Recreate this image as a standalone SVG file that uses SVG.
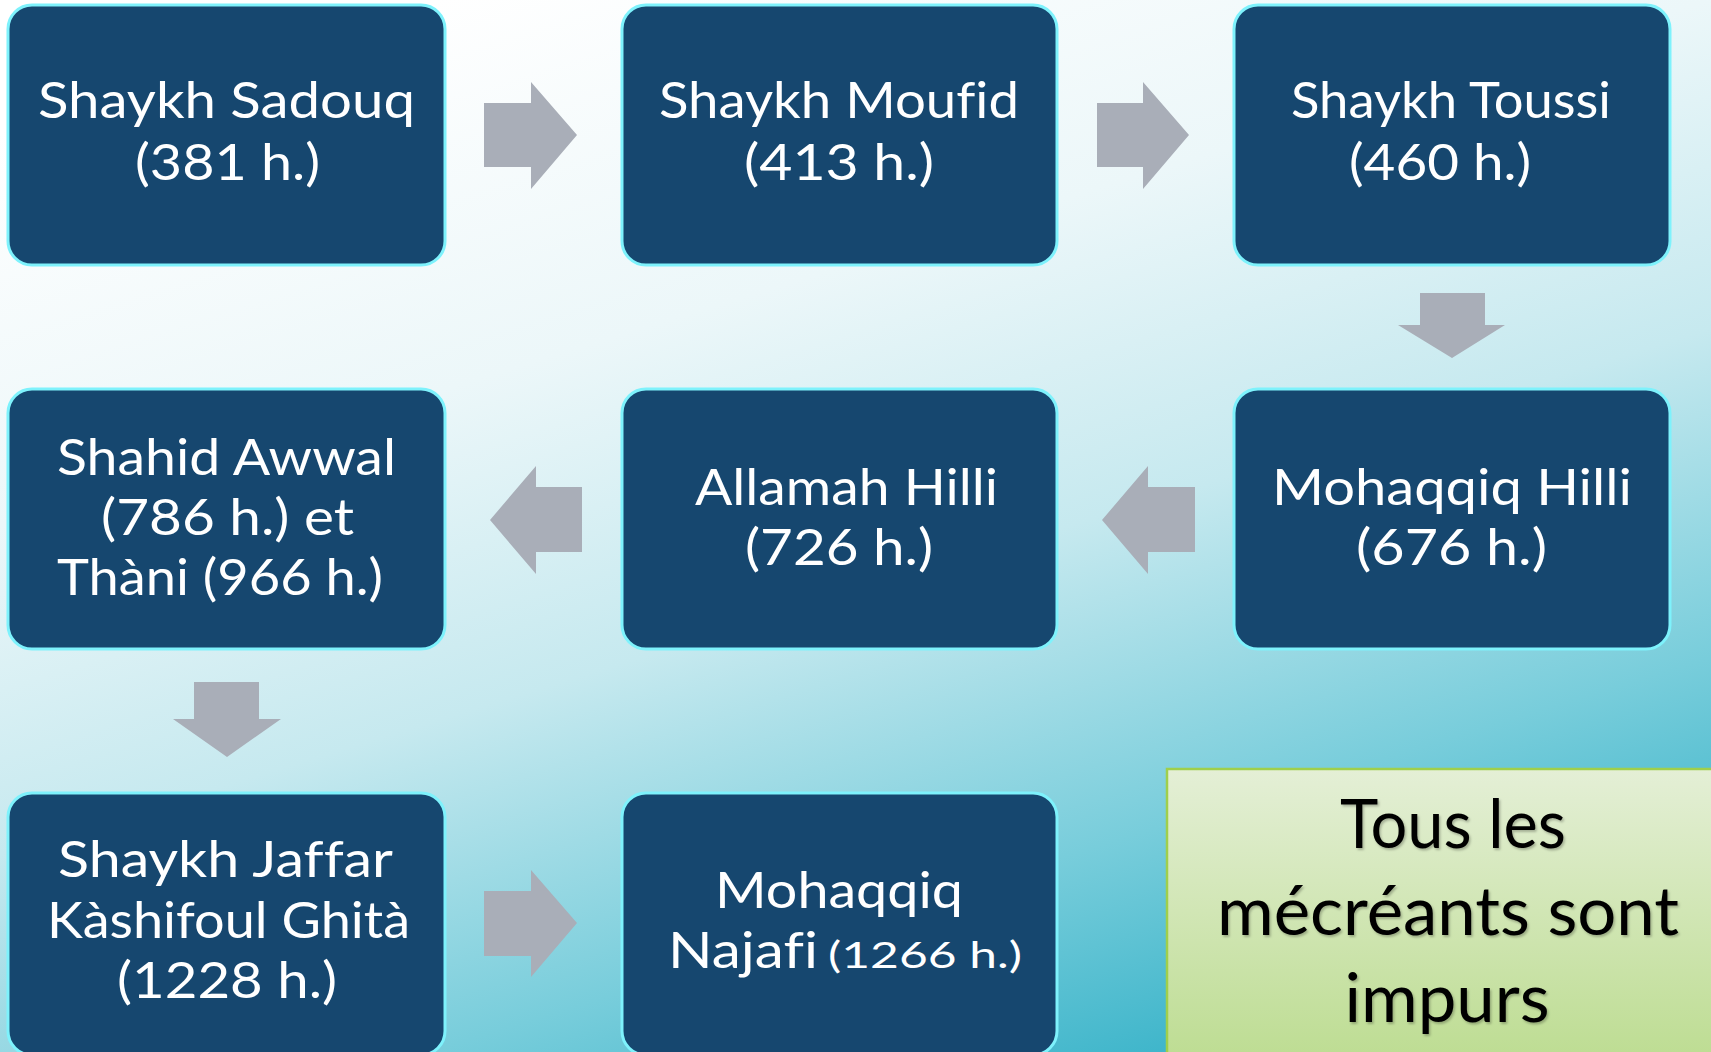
<svg xmlns="http://www.w3.org/2000/svg" width="1711" height="1052" viewBox="0 0 1711 1052">
<defs>
<linearGradient id="bg" x1="0.25" y1="0" x2="0.75" y2="1">
<stop offset="0" stop-color="#ffffff"/>
<stop offset="0.3" stop-color="#ecf7f9"/>
<stop offset="0.55" stop-color="#c6e9ef"/>
<stop offset="0.8" stop-color="#78cddb"/>
<stop offset="1" stop-color="#36b2c8"/>
</linearGradient>
<linearGradient id="gbox" x1="0" y1="0" x2="0" y2="1">
<stop offset="0" stop-color="#e4efd6"/>
<stop offset="1" stop-color="#bcdc90"/>
</linearGradient>
<filter id="ts" x="-5%" y="-10%" width="110%" height="130%">
<feDropShadow dx="1.5" dy="2" stdDeviation="1.2" flood-color="#000" flood-opacity="0.25"/>
</filter>
</defs>
<style>
.box{fill:#16476f;stroke:#7ef2fc;stroke-width:3}
.t{font-family:Lato,"Open Sans","Liberation Sans",sans-serif;font-size:50px;fill:#ffffff;font-variant-ligatures:none}
.s{font-size:37px}
.arr{fill:#a9aeb8}
.g{font-family:Lato,"Open Sans","Liberation Sans",sans-serif;font-size:68px;fill:#000000;text-anchor:middle;font-variant-ligatures:none}
</style>
<rect x="0" y="0" width="1711" height="1052" fill="url(#bg)"/>

<g id="connectors">
<polygon class="arr" points="484,103 531,103 531,82 577,135 531,189 531,167 484,167"/>
<polygon class="arr" points="1097,103 1143,103 1143,82 1189,135 1143,189 1143,167 1097,167"/>
<polygon class="arr" points="1420,293 1485,293 1485,325 1505,325 1452,358 1398,325 1420,325"/>
<polygon class="arr" points="1195,487 1148,487 1148,466 1102,520 1148,574 1148,552 1195,552"/>
<polygon class="arr" points="582,487 536,487 536,466 490,520 536,574 536,552 582,552"/>
<polygon class="arr" points="194,682 259,682 259,719 281,719 227,757 173,719 194,719"/>
<polygon class="arr" points="484,891 531,891 531,870 577,923 531,977 531,956 484,956"/>
</g>

<g id="n1">
<rect class="box" x="8" y="5" width="437" height="260" rx="24"/>
<text class="t" x="38" y="118" textLength="377" lengthAdjust="spacingAndGlyphs">Shaykh Sadouq</text>
<text class="t" x="135" y="180" textLength="185" lengthAdjust="spacingAndGlyphs">(381 h.)</text>
</g>
<g id="n2">
<rect class="box" x="622" y="5" width="435" height="260" rx="24"/>
<text class="t" x="659" y="118" textLength="360" lengthAdjust="spacingAndGlyphs">Shaykh Moufid</text>
<text class="t" x="744" y="180" textLength="190" lengthAdjust="spacingAndGlyphs">(413 h.)</text>
</g>
<g id="n3">
<rect class="box" x="1234" y="5" width="436" height="260" rx="24"/>
<text class="t" x="1291" y="118" textLength="320" lengthAdjust="spacingAndGlyphs">Shaykh Toussi</text>
<text class="t" x="1349" y="180" textLength="182" lengthAdjust="spacingAndGlyphs">(460 h.)</text>
</g>
<g id="n4">
<rect class="box" x="8" y="389" width="437" height="260" rx="24"/>
<text class="t" x="57" y="475" textLength="339" lengthAdjust="spacingAndGlyphs">Shahid Awwal</text>
<text class="t" x="101" y="535" textLength="253" lengthAdjust="spacingAndGlyphs">(786 h.) et</text>
<text class="t" x="57" y="595" textLength="326" lengthAdjust="spacingAndGlyphs">Thàni (966 h.)</text>
</g>
<g id="n5">
<rect class="box" x="622" y="389" width="435" height="260" rx="24"/>
<text class="t" x="695" y="505" textLength="303" lengthAdjust="spacingAndGlyphs">Allamah Hilli</text>
<text class="t" x="745" y="565" textLength="188" lengthAdjust="spacingAndGlyphs">(726 h.)</text>
</g>
<g id="n6">
<rect class="box" x="1234" y="389" width="436" height="260" rx="24"/>
<text class="t" x="1272" y="505" textLength="360" lengthAdjust="spacingAndGlyphs">Mohaqqiq Hilli</text>
<text class="t" x="1356" y="565" textLength="191" lengthAdjust="spacingAndGlyphs">(676 h.)</text>
</g>
<g id="n7">
<rect class="box" x="8" y="793" width="437" height="262" rx="24"/>
<text class="t" x="58" y="877" textLength="335" lengthAdjust="spacingAndGlyphs">Shaykh Jaffar</text>
<text class="t" x="47" y="938" textLength="363" lengthAdjust="spacingAndGlyphs">Kàshifoul Ghità</text>
<text class="t" x="117" y="998" textLength="220" lengthAdjust="spacingAndGlyphs">(1228 h.)</text>
</g>
<g id="n8">
<rect class="box" x="622" y="793" width="435" height="262" rx="24"/>
<text class="t" x="715" y="908" textLength="248" lengthAdjust="spacingAndGlyphs">Mohaqqiq</text>
<text class="t" y="968"><tspan x="668" textLength="150" lengthAdjust="spacingAndGlyphs">Najafi</tspan><tspan class="s" x="828" textLength="194" lengthAdjust="spacingAndGlyphs">(1266 h.)</tspan></text>
</g>
<g id="n9">
<rect x="1167" y="769" width="580" height="300" fill="url(#gbox)" stroke="#9fcf4c" stroke-width="2.5"/>
<g filter="url(#ts)">
<text class="g" x="1453" y="848" textLength="226" lengthAdjust="spacingAndGlyphs">Tous les</text>
<text class="g" x="1448" y="935" textLength="462" lengthAdjust="spacingAndGlyphs">mécréants sont</text>
<text class="g" x="1447" y="1022" textLength="205" lengthAdjust="spacingAndGlyphs">impurs</text>
</g>
</g>
</svg>
